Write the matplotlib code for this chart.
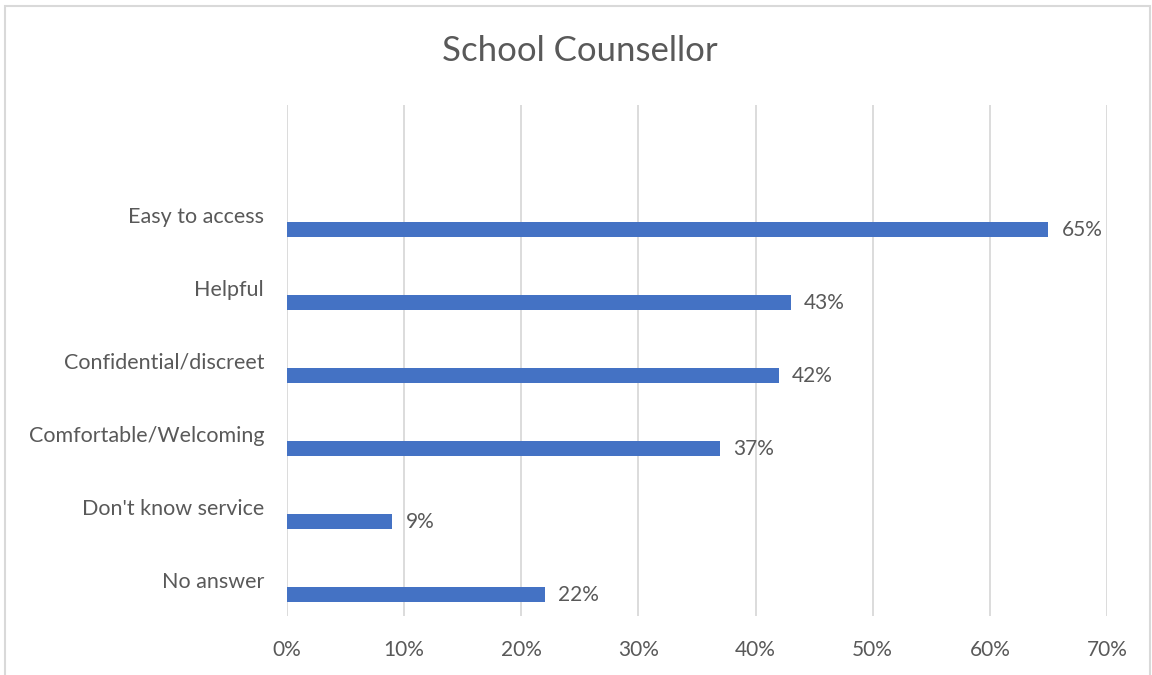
import matplotlib.pyplot as plt
from matplotlib.patches import Rectangle

categories = ["Easy to access", "Helpful", "Confidential/discreet",
              "Comfortable/Welcoming", "Don't know service", "No answer"]
values = [65, 43, 42, 37, 9, 22]
xticks = [0, 10, 20, 30, 40, 50, 60, 70]

bar_color = "#4472C4"
text_color = "#595959"
grid_color = "#D9D9D9"

plt.rcParams['font.family'] = ['Lato', 'DejaVu Sans']

W, H = 1152, 675
fig = plt.figure(figsize=(W / 100, H / 100), dpi=100)

# plot area in pixels
left, right, top, bottom = 287, 1107, 105, 616
ax = fig.add_axes([left / W, 1 - bottom / H, (right - left) / W, (bottom - top) / H])

# 7 slots: the first one is an empty band at the top
n_slots = len(categories) + 1
slot_px = (bottom - top) / n_slots
pos = list(range(1, n_slots))
offset = 15 / slot_px
bar_h = 15 / slot_px

ax.barh([p + offset for p in pos], values, height=bar_h, color=bar_color, zorder=3)
for p, v in zip(pos, values):
    ax.text(v + 13 * 70 / (right - left), p + offset, f"{v}%", va="center", ha="left",
            fontsize=15, color=text_color)

ax.set_xlim(0, 70)
ax.set_ylim(n_slots - 0.5, -0.5)
ax.set_xticks(xticks)
ax.set_xticklabels([f"{t}%" for t in xticks], fontsize=15, color=text_color)
ax.set_yticks(pos)
ax.set_yticklabels(categories, fontsize=15.5, color=text_color)
ax.tick_params(axis="both", length=0)
ax.tick_params(axis="x", pad=17)
ax.tick_params(axis="y", pad=16.5)
ax.grid(axis="x", color=grid_color, linewidth=1.3, zorder=0)
for s in ax.spines.values():
    s.set_visible(False)

fig.text(580 / W, 1 - 51 / H, "School Counsellor", ha="center", va="center",
         fontsize=25, color=text_color)

# chart border
fig.patches.append(Rectangle((5 / W, -0.05), (1150 - 5) / W, 1.05 - 6 / H,
                             transform=fig.transFigure, fill=False,
                             edgecolor=grid_color, linewidth=1.5))

fig.savefig("out.png", dpi=100)
